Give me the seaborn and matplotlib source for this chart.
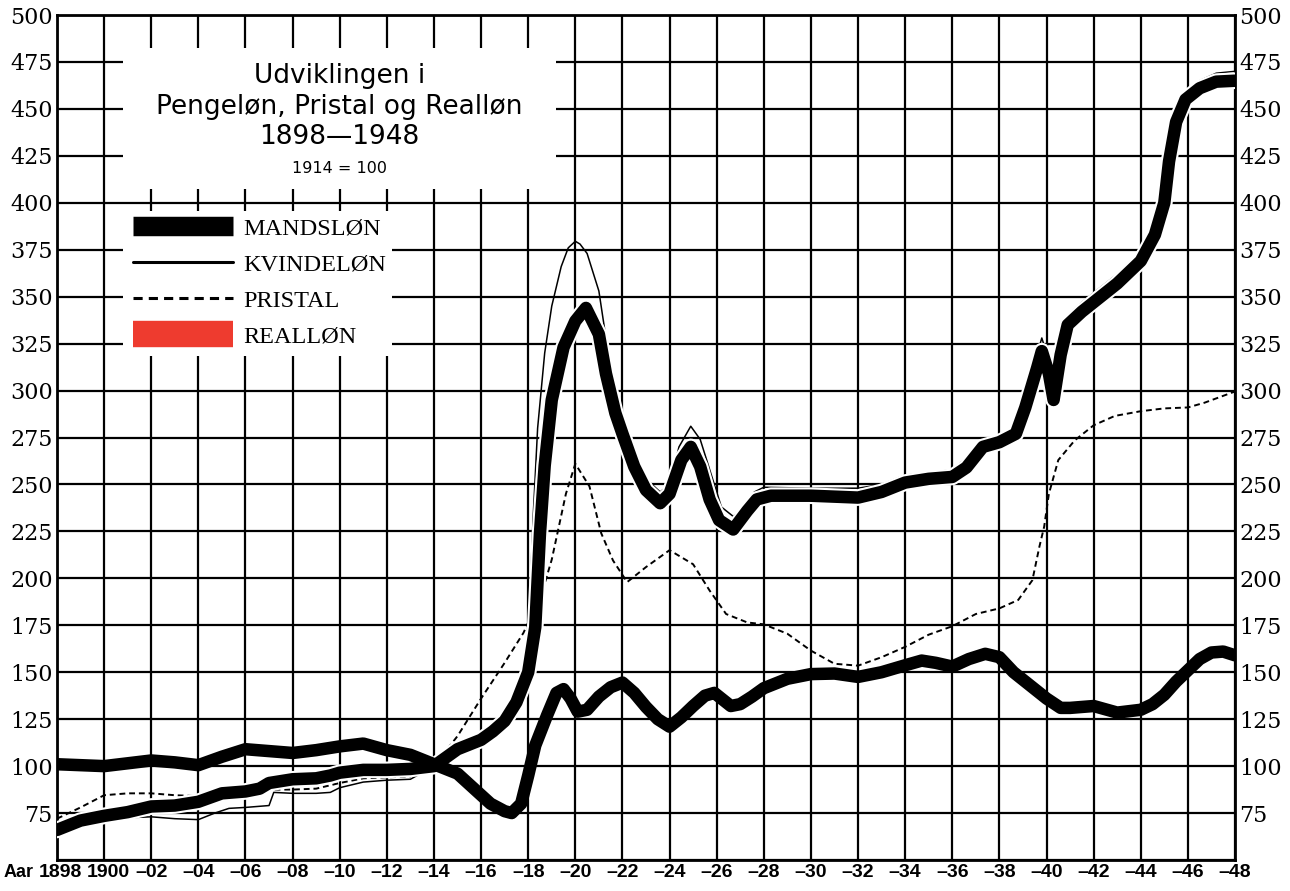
import matplotlib
matplotlib.use('Agg')
import matplotlib.pyplot as plt
import matplotlib.patheffects as pe
import matplotlib.transforms as mtransforms
from matplotlib.lines import Line2D
from matplotlib.patches import Rectangle
import seaborn as sns

# Data (1914 = 100)

mand_years = [1898, 1899, 1900, 1901, 1902, 1903, 1904, 1905, 1906, 1906.6, 1907, 1908, 1909,
              1909.6, 1910, 1911, 1912, 1913, 1914, 1915, 1916, 1916.5, 1917, 1917.5, 1918,
              1918.3, 1918.5, 1918.7, 1919, 1919.5, 1920, 1920.45, 1921, 1921.3, 1921.7, 1922,
              1922.5, 1923, 1923.6, 1924, 1924.5, 1924.9, 1925.3, 1925.7, 1926.1, 1926.7,
              1927.3, 1927.7, 1928.3, 1930, 1932, 1933, 1934, 1935, 1936, 1936.6, 1937.3, 1938,
              1938.7, 1939.1, 1939.6, 1939.8, 1940.1, 1940.3, 1940.6, 1940.9, 1941.5, 1942,
              1943, 1944, 1944.6, 1945, 1945.2, 1945.5, 1945.9, 1946.5, 1947.2, 1948]
mand_values = [66, 71, 73.5, 75.5, 78.5, 79, 81, 85.5, 86.5, 88, 91, 93, 93.5,
               95, 96.5, 98, 98, 98.5, 100, 109, 114, 118.5, 124, 134, 150,
               174, 224, 260, 295, 323, 337, 344, 330, 309, 288, 277,
               259.5, 247, 240, 245, 263, 270, 259.5, 242, 231, 226,
               236, 242, 244, 244, 243, 246, 251, 253, 254, 259, 270, 272.5,
               277, 291, 312, 321, 309, 295, 319, 335, 342, 347,
               357, 369, 383, 400, 422, 443, 455, 461, 464.5, 465]

kvinde_years = [1898, 1899, 1900, 1901, 1902, 1903, 1904, 1904.7, 1905.3, 1906, 1907, 1907.2,
                1908, 1909, 1909.6, 1910, 1911, 1912, 1913, 1914, 1915, 1916, 1917, 1917.5,
                1918, 1918.2, 1918.4, 1918.7, 1919, 1919.4, 1919.7, 1920, 1920.2, 1920.5, 1921,
                1921.3, 1921.7, 1922, 1922.5, 1923, 1923.6, 1924, 1924.4, 1924.9, 1925.3,
                1925.8, 1926.2, 1926.7, 1927.2, 1927.6, 1928, 1930, 1932, 1933, 1934, 1935,
                1936, 1936.6, 1937.3, 1938, 1938.7, 1939.1, 1939.5, 1939.8, 1940.1, 1940.3,
                1940.6, 1940.9, 1941.5, 1942, 1943, 1944, 1944.6, 1945, 1945.2, 1945.5, 1945.9,
                1946.5, 1947.2, 1948]
kvinde_values = [68, 70, 72, 72.5, 73, 72, 71.5, 75, 77.5, 78, 79, 86,
                 85.5, 85.5, 86, 88.5, 91.5, 92.5, 93, 100, 107, 112, 120, 128,
                 165, 230, 280, 320, 345, 366, 376, 379.5, 378, 373, 353,
                 328, 300, 286, 267, 253, 246, 250, 270, 281, 274,
                 254, 238, 233, 238, 246, 248.5, 248, 248, 250, 255, 256,
                 258, 264, 274, 276, 281, 293, 315, 328, 316, 301,
                 328, 340, 347, 352, 362, 374, 388, 405, 426, 447, 459,
                 465, 469, 470]

pris_years = [1898, 1899, 1900, 1901, 1902, 1903, 1904, 1905, 1906, 1907, 1908, 1909, 1910,
              1911, 1912, 1913, 1914, 1915, 1916, 1917, 1917.8, 1918.6, 1919, 1919.6, 1920,
              1920.6, 1921.1, 1921.6, 1922.2, 1923, 1924, 1925, 1925.7, 1926.4, 1927.3, 1928,
              1929, 1930, 1931, 1932, 1933, 1934, 1935, 1936, 1937, 1938, 1938.8, 1939.4,
              1939.7, 1939.9, 1940.1, 1940.5, 1941.2, 1942, 1942.9, 1944, 1945, 1946, 1946.7,
              1948]
pris_values = [72, 78, 84.5, 85.5, 85.5, 84.5, 84, 85.5, 86.5, 87.5, 87.5, 88, 91,
               93.5, 94, 94.5, 100, 116, 136, 155, 171, 193, 210, 245, 261,
               249, 224, 209.5, 198, 206, 215, 207.5, 193.5, 181, 176.5, 175.5,
               170.5, 161.5, 154.5, 153.5, 158, 163.5, 170, 174.5, 181, 184, 188.5, 199,
               217, 227.5, 245, 263, 273.5, 281.5, 286.5, 289, 290.5, 291, 293.5,
               299.5]

real_years = [1898, 1899, 1900, 1901, 1902, 1903, 1904, 1905, 1906, 1907, 1908, 1909, 1910,
              1911, 1912, 1913, 1914, 1915, 1915.7, 1916.4, 1917, 1917.3, 1917.7, 1918, 1918.3,
              1918.8, 1919.2, 1919.5, 1919.8, 1920.1, 1920.5, 1921, 1921.5, 1922, 1922.5, 1923,
              1923.5, 1924, 1924.5, 1925, 1925.5, 1925.9, 1926.1, 1926.6, 1927, 1927.5, 1928,
              1929, 1930, 1931, 1932, 1933, 1934, 1934.7, 1935.3, 1936, 1936.7, 1937.4, 1938,
              1938.6, 1939.4, 1940, 1940.6, 1941, 1942, 1943, 1944, 1944.5, 1945, 1945.5, 1946,
              1946.5, 1947, 1947.5, 1948]
real_values = [101, 100.5, 100, 101.5, 103, 102, 100.5, 105, 109, 108, 107, 108.5, 110.5,
               112, 108.5, 106, 101, 96, 88, 80, 76, 75, 80, 95, 111,
               127, 139, 141, 136, 129, 130, 137, 142, 144.5, 139, 131.5,
               125, 121, 126, 132, 137.5, 139, 137, 132, 133, 137, 141.5,
               146.5, 149, 149.3, 147.5, 150, 153.7, 156.2, 155, 153, 157, 159.8, 158,
               150, 142, 136, 131, 131, 132, 128.5, 130, 133, 138, 145, 151,
               157, 160.5, 161, 159]

year_ticks = list(range(1898, 1949, 2))
year_labels = ['1898', '1900'] + ['\u2013%02d' % (y % 100) for y in year_ticks[2:]]
value_ticks = list(range(50, 501, 25))
value_labels = [''] + [str(v) for v in value_ticks[1:]]

legend_labels = ['MANDSLØN', 'KVINDELØN', 'PRISTAL', 'REALLØN']

# Plot

sns.set_style('white')
plt.rcParams['font.family'] = ['DejaVu Sans']
plt.rcParams['text.color'] = 'black'
plt.rcParams['xtick.color'] = 'black'
plt.rcParams['ytick.color'] = 'black'

fig = plt.figure(figsize=(12.9, 8.91), dpi=100)
ax = fig.add_axes([57 / 1290, 31 / 891, 1178 / 1290, 845 / 891])

ax.set_xlim(1898, 1948)
ax.set_ylim(50, 500)
ax.set_xticks(year_ticks)
ax.set_yticks(value_ticks)
ax.grid(True, color='black', lw=1.6)
ax.set_axisbelow(True)
for s in ax.spines.values():
    s.set_color('black')
    s.set_linewidth(2)

# white boxes for title and legend
ax.add_patch(Rectangle((1900.8, 407.4), 18.4, 75, facecolor='white', edgecolor='none', zorder=1))
ax.add_patch(Rectangle((1900.8, 318.6), 11.4, 77, facecolor='white', edgecolor='none', zorder=1))

sns.lineplot(x=pris_years, y=pris_values, ax=ax, color='black', lw=1.4,
             linestyle=(0, (3, 2)), estimator=None, sort=False, zorder=3)
sns.lineplot(x=kvinde_years, y=kvinde_values, ax=ax, color='black', lw=1.1,
             estimator=None, sort=False, zorder=3)
sns.lineplot(x=mand_years, y=mand_values, ax=ax, color='black', lw=9,
             solid_joinstyle='round', estimator=None, sort=False, zorder=4,
             path_effects=[pe.Stroke(linewidth=12, foreground='white'), pe.Normal()])
sns.lineplot(x=real_years, y=real_values, ax=ax, color='black', lw=9,
             solid_joinstyle='round', estimator=None, sort=False, zorder=5)

# ticks
ax.tick_params(axis='both', length=0, pad=3)
ax.tick_params(axis='y', labelright=True, labelleft=True)
ax.set_xticklabels(year_labels, family='Liberation Sans', fontweight='bold', fontsize=14)
ax.set_yticklabels(value_labels, family='DejaVu Serif', fontsize=16)
ax.set_xlabel('')
ax.set_ylabel('')

# nudge the two crowded year labels at the left a little to the right
for lab, dx in zip(ax.get_xticklabels()[:2], [3, 4]):
    shift = mtransforms.ScaledTranslation(dx / 100, 0, fig.dpi_scale_trans)
    lab.set_transform(lab.get_transform() + shift)

ax.annotate('Aar', xy=(1895.75, 0), xycoords=('data', 'axes fraction'),
            xytext=(0, -3), textcoords='offset points',
            ha='left', va='top', family='Liberation Sans',
            fontweight='bold', fontsize=13, annotation_clip=False)

# title
ax.text(1910, 467.6, 'Udviklingen i', ha='center', va='center', fontsize=19, zorder=6)
ax.text(1910, 451, 'Pengeløn, Pristal og Realløn', ha='center', va='center', fontsize=19, zorder=6)
ax.text(1910, 435, '1898\u20141948', ha='center', va='center', fontsize=19, zorder=6)
ax.text(1910, 418, '1914 = 100', ha='center', va='center', fontsize=11.5, zorder=6)

# legend
handles = [
    Line2D([], [], color='black', lw=14, solid_capstyle='butt'),
    Line2D([], [], color='black', lw=2.2),
    Line2D([], [], color='black', lw=2.2, linestyle=(0, (3, 2))),
    Line2D([], [], color='#ee3b2f', lw=19, solid_capstyle='butt'),
]
leg = ax.legend(handles, legend_labels, loc='upper left', bbox_to_anchor=(0.0645, 0.760),
                frameon=False, prop={'family': 'Liberation Serif', 'size': 17.5},
                handlelength=4.1, handletextpad=0.45, labelspacing=0.57,
                borderpad=0, borderaxespad=0)
leg.set_zorder(6)

fig.savefig('out.png', dpi=100)
